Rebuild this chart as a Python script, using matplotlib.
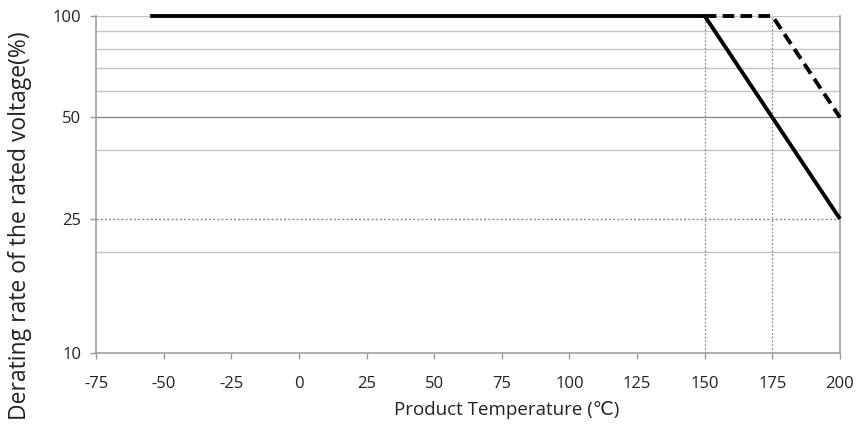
import matplotlib
matplotlib.use("Agg")
import matplotlib.pyplot as plt
from matplotlib.ticker import FixedLocator, NullLocator

plt.rcParams['font.family'] = ['Open Sans', 'DejaVu Sans']

# derating curves (temperature in degC, rate in %)
solid_temp = [-55, 150, 200]
solid_rate = [100, 100, 25]
dashed_temp = [150, 175, 200]
dashed_rate = [100, 100, 50]

x_ticks = [-75, -50, -25, 0, 25, 50, 75, 100, 125, 150, 175, 200]
y_ticks = [10, 25, 50, 100]
grid_light = [20, 40, 60, 70, 80, 90, 100]
marker_temps = [150, 175]

fig = plt.figure(figsize=(8.58, 4.28), dpi=100)
ax = fig.add_axes([0.1119, 0.1752, 0.8671, 0.7874])

ax.set_yscale('log')
ax.set_xlim(-75, 200)
ax.set_ylim(10, 100)

for v in grid_light:
    ax.axhline(v, color='#c4c4c4', lw=1.0, zorder=1)
ax.axhline(50, color='#8a8a8a', lw=1.0, zorder=1)
ax.axhline(25, color='#8a8a8a', lw=1.0, ls=(0, (1.5, 1.5)), zorder=1)
for t in marker_temps:
    ax.axvline(t, color='#8a8a8a', lw=0.9, ls=(0, (1.5, 1.5)), zorder=1)

ax.plot(solid_temp, solid_rate, color='black', lw=2.8, zorder=3,
        solid_capstyle='butt', clip_on=False)
ax.plot(dashed_temp, dashed_rate, color='black', lw=2.8, ls=(0, (3, 1.6)),
        zorder=3, clip_on=False)

ax.xaxis.set_major_locator(FixedLocator(x_ticks))
ax.yaxis.set_major_locator(FixedLocator(y_ticks))
ax.yaxis.set_minor_locator(NullLocator())
ax.set_xticklabels([str(v) for v in x_ticks])
ax.set_yticklabels([str(v) for v in y_ticks])
ax.tick_params(axis='both', labelsize=12, length=4.5, width=1, direction='out',
               colors='#999999', labelcolor='#222222')
ax.tick_params(axis='x', pad=12)
ax.tick_params(axis='y', pad=6)

for side in ['left', 'bottom', 'right']:
    ax.spines[side].set_color('#a0a0a0')
    ax.spines[side].set_linewidth(1.2)
ax.spines['top'].set_visible(False)

ax.set_xlabel('Product Temperature (℃)', fontsize=13.5, color='#222222')
ax.set_ylabel('Derating rate of the rated voltage(%)', fontsize=16.5, color='#222222')
ax.xaxis.set_label_coords(0.552, -0.142)
ax.yaxis.set_label_coords(-0.086, 0.377)

fig.savefig('out.png', dpi=100)
